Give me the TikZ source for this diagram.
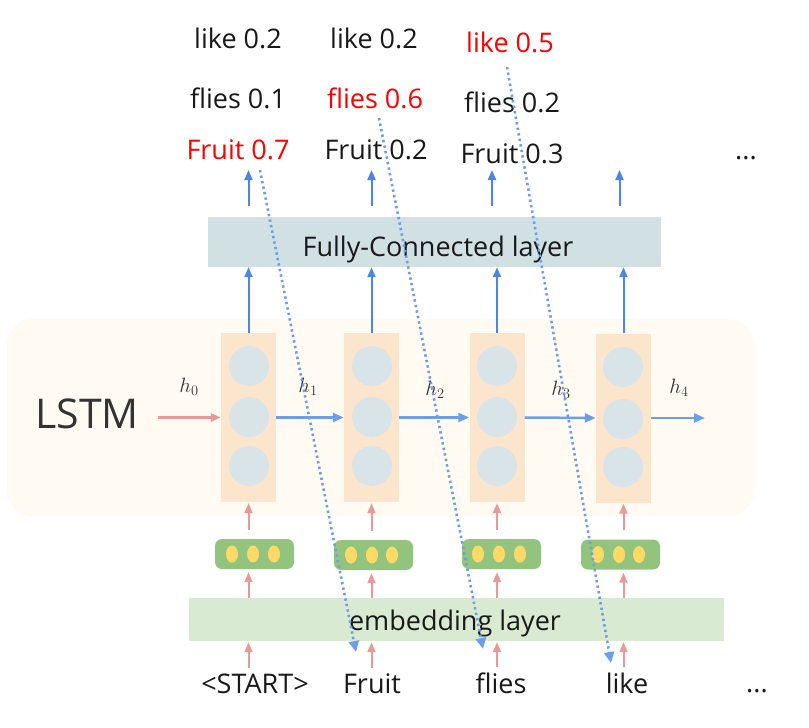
\documentclass[tikz,border=0pt]{standalone}
\usepackage{fontspec}
\setmainfont{Open Sans}
\usepackage{xcolor}
\usepackage{tikz}
\usetikzlibrary{arrows.meta,shapes}
\definecolor{lstmbg}{HTML}{FFFBF2}
\definecolor{cellfill}{HTML}{FCE5CD}
\definecolor{unitfill}{HTML}{D9E4E9}
\definecolor{pillfill}{HTML}{93C47D}
\definecolor{dotfill}{HTML}{FFD966}
\definecolor{fcfill}{HTML}{D0E0E3}
\definecolor{embfill}{HTML}{D9EAD3}
\definecolor{fwdblue}{HTML}{4A86E8}
\definecolor{hidblue}{HTML}{6D9EEB}
\definecolor{embpink}{HTML}{EA9999}
\tikzstyle{bg}=[rectangle,rounded corners=25pt,fill=lstmbg,minimum width=747pt,minimum height=197pt]
\tikzstyle{cell}=[rectangle,fill=cellfill,minimum width=55pt,minimum height=169pt,inner sep=0pt]
\tikzstyle{unit}=[circle,fill=unitfill,minimum size=40pt,inner sep=0pt]
\tikzstyle{pill}=[rectangle,rounded corners=7pt,fill=pillfill,minimum width=79pt,minimum height=30pt,inner sep=0pt]
\tikzstyle{dot}=[ellipse,fill=dotfill,minimum width=12pt,minimum height=17pt,inner sep=0pt]
\tikzstyle{layer}=[rectangle,inner sep=0pt]
\tikzstyle{word}=[anchor=base,inner sep=0pt,text=black!90,font=\fontsize{27}{30}\selectfont]
\tikzstyle{hlabel}=[anchor=base,inner sep=0pt,text=black!80,font=\fontsize{20}{24}\selectfont]
\tikzstyle{fwd}=[draw=fwdblue,line width=2pt,-{Triangle[length=10pt,width=8pt]}]
\tikzstyle{hid}=[draw=hidblue,line width=2.5pt,-{Triangle[length=11pt,width=9pt]}]
\tikzstyle{emb}=[draw=embpink,line width=2pt,-{Triangle[length=10pt,width=8pt]}]
\tikzstyle{guess}=[draw=hidblue,line width=2.6pt,dash pattern=on 2.4pt off 3.2pt,-{Triangle[length=11pt,width=10pt]}]

\begin{document}
\begin{tikzpicture}[x=1pt,y=-1pt]
        \useasboundingbox (0,0) rectangle (809,728);

        % LSTM block
        \node at (380.5,417.5) [bg] (lstm) {};
        \node at (87,428) [word,text=black!80,font=\fontsize{41}{46}\selectfont] (lstmtext) {LSTM};

        \node at (248.5,417.5) [cell] (c1) {};
        \node at (371.5,417.5) [cell] (c2) {};
        \node at (497,417.5)   [cell] (c3) {};
        \node at (623.5,418)   [cell] (c4) {};

        \node at (249,366) [unit] (u11) {};
        \node at (249,417) [unit] (u12) {};
        \node at (249,466) [unit] (u13) {};
        \node at (372,366) [unit] (u21) {};
        \node at (372,417) [unit] (u22) {};
        \node at (372,466) [unit] (u23) {};
        \node at (497,366) [unit] (u31) {};
        \node at (497,417) [unit] (u32) {};
        \node at (497,466) [unit] (u33) {};
        \node at (623,367) [unit] (u41) {};
        \node at (623,419) [unit] (u42) {};
        \node at (623,467) [unit] (u43) {};

        % embeddings
        \node at (254.5,554) [pill] (p1) {};
        \node at (373.5,555) [pill] (p2) {};
        \node at (501.5,554) [pill] (p3) {};
        \node at (620.5,554.5) [pill] (p4) {};

        \node at (232,554) [dot] (e11) {};
        \node at (253,554) [dot] (e12) {};
        \node at (274,554) [dot] (e13) {};
        \node at (351,555) [dot] (e21) {};
        \node at (372,555) [dot] (e22) {};
        \node at (392,555) [dot] (e23) {};
        \node at (478,554) [dot] (e31) {};
        \node at (499,554) [dot] (e32) {};
        \node at (520,554) [dot] (e33) {};
        \node at (598,554.5) [dot] (e41) {};
        \node at (619,554.5) [dot] (e42) {};
        \node at (639,554.5) [dot] (e43) {};

        % layers
        \node at (434.5,242) [layer,fill=fcfill,minimum width=453pt,minimum height=50pt] (fc) {};
        \node at (438,256) [word] (fctext) {Fully-Connected layer};
        \node at (456.5,619.5) [layer,fill=embfill,minimum width=535pt,minimum height=43pt] (emb) {};
        \node at (455,630) [word] (embtext) {embedding layer};

        % inputs
        \node at (255,693) [word] (w0) {<START>};
        \node at (372,693) [word] (w1) {Fruit};
        \node at (501,693) [word] (w2) {flies};
        \node at (627,693) [word] (w3) {like};
        \node at (757,692) [word] (w4) {...};

        % outputs
        \node at (238,48)  [word] (o1like) {like 0.2};
        \node at (238,108) [word] (o1flies) {flies 0.1};
        \node at (238,159) [word,text=red] (o1fruit) {Fruit 0.7};
        \node at (374,48)  [word] (o2like) {like 0.2};
        \node at (375,108) [word,text=red] (o2flies) {flies 0.6};
        \node at (376,159) [word] (o2fruit) {Fruit 0.2};
        \node at (510,52)  [word,text=red] (o3like) {like 0.5};
        \node at (512,112) [word] (o3flies) {flies 0.2};
        \node at (512,163) [word] (o3fruit) {Fruit 0.3};
        \node at (746,159) [word] (o4) {...};

        % hidden states
        \node at (189,392) [hlabel] (h0) {$h_0$};
        \node at (308,392) [hlabel] (h1) {$h_1$};
        \node at (435,395) [hlabel] (h2) {$h_2$};
        \node at (561,395) [hlabel] (h3) {$h_3$};
        \node at (679,393) [hlabel] (h4) {$h_4$};

        \coordinate (hin) at (158,417.5);
        \coordinate (hout) at (705,418);
        \draw [emb,line width=2.5pt] (hin) -- (c1.west);
        \draw [hid] (c1.east) -- (c2.west);
        \draw [hid] (c2.east) -- (c3.west);
        \draw [hid] (c3.east) -- (c4.west);
        \draw [hid] (c4.east) -- (hout);

        % up to the fully-connected layer and out
        \draw [fwd] (c1.north) -- (c1.north |- fc.south);
        \draw [fwd] (c2.north) -- (c2.north |- fc.south);
        \draw [fwd] (c3.north) -- (c3.north |- fc.south);
        \draw [fwd] (c4.north) -- (c4.north |- fc.south);
        \draw [fwd,shorten <=11pt,shorten >=11pt] (c1.north |- fc.north) -- (c1.north |- o1fruit.base);
        \draw [fwd,shorten <=11pt,shorten >=11pt] (c2.north |- fc.north) -- (c2.north |- o1fruit.base);
        \draw [fwd,shorten <=11pt,shorten >=11pt] ([xshift=-5pt]c3.north |- fc.north) -- ([xshift=-5pt]c3.north |- o1fruit.base);
        \draw [fwd,shorten <=11pt,shorten >=11pt] ([xshift=-4pt]c4.north |- fc.north) -- ([xshift=-4pt]c4.north |- o1fruit.base);

        % inputs up through the embeddings
        \draw [emb,shorten <=9pt,shorten >=1pt] (c1.south |- p1.north) -- (c1.south);
        \draw [emb,shorten <=9pt,shorten >=1pt] (c2.south |- p2.north) -- (c2.south);
        \draw [emb,shorten <=9pt,shorten >=1pt] (c3.south |- p3.north) -- (c3.south);
        \draw [emb,shorten <=9pt,shorten >=1pt] (c4.south |- p4.north) -- (c4.south);
        \draw [emb,shorten >=3pt] (emb.north -| c1.south) -- (c1.south |- p1.south);
        \draw [emb,shorten >=3pt] (emb.north -| c2.south) -- (c2.south |- p2.south);
        \draw [emb,shorten >=3pt] (emb.north -| c3.south) -- (c3.south |- p3.south);
        \draw [emb,shorten >=3pt] (emb.north -| c4.south) -- (c4.south |- p4.south);
        \draw [emb,shorten <=5pt,shorten >=1pt] (c1.south |- w0.north) -- (c1.south |- emb.south);
        \draw [emb,shorten <=5pt,shorten >=1pt] (c2.south |- w1.north) -- (c2.south |- emb.south);
        \draw [emb,shorten <=5pt,shorten >=1pt] (c3.south |- w2.north) -- (c3.south |- emb.south);
        \draw [emb,shorten <=5pt,shorten >=1pt] (c4.south |- w3.north) -- (c4.south |- emb.south);

        % predictions fed back as next input
        \coordinate (g1) at (260,170);
        \coordinate (g2) at (379,118);
        \coordinate (g3) at (507,67);
        \coordinate (n1) at (356,652);
        \coordinate (n2) at (483,649);
        \coordinate (n3) at (611,663);
        \draw [guess] (g1) -- (n1);
        \draw [guess] (g2) -- (n2);
        \draw [guess] (g3) -- (n3);
      \end{tikzpicture}
\end{document}
